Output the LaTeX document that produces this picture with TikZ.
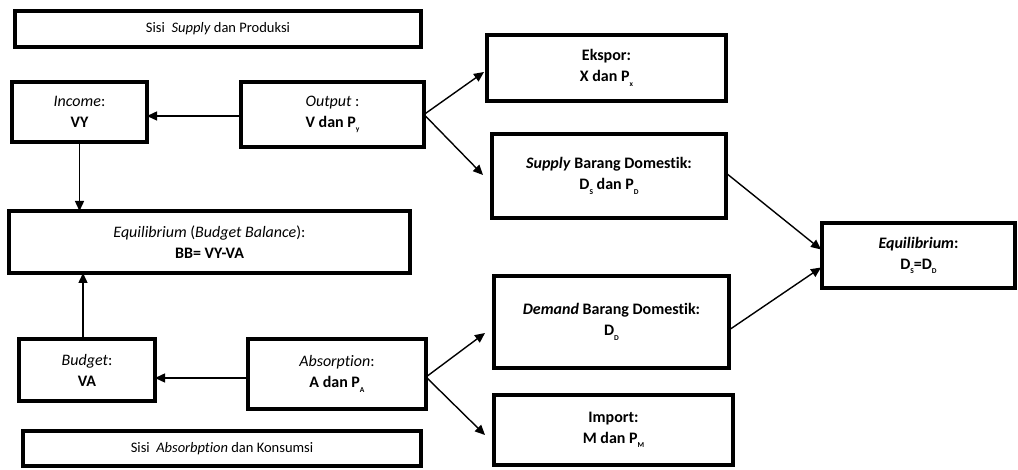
\documentclass[tikz,border=0pt]{standalone}
\usepackage{fontspec}
\setmainfont{Carlito}[Ligatures=NoCommon]
\usetikzlibrary{arrows.meta}
\newcommand\ssub[1]{\raisebox{-0.55ex}{\fontsize{7.5}{7.5}\selectfont\bfseries #1}}
\tikzset{
  box/.style={draw, line width=3.6pt, rectangle, inner sep=0pt, outer sep=0pt, align=center,
    font=\fontsize{16}{21}\selectfont},
  sisi/.style={box, font=\fontsize{14.5}{18}\selectfont},
  conn/.style={line width=1.4pt, -{Triangle[length=10pt,width=9pt]}}
}
\begin{document}
\begin{tikzpicture}[x=1pt,y=-1pt]
\useasboundingbox (0,0) rectangle (1018,470);
\node[sisi, minimum width=406pt, minimum height=36pt] (s1) at (218,29) {Sisi \ \textit{Supply} dan Produksi};
\node[box, minimum width=135pt, minimum height=60pt] (income) at (79.5,112) {\textit{Income}:\\\textbf{VY}};
\node[box, minimum width=183pt, minimum height=65pt] (output) at (332.5,114.5) {\textit{Output} :\\\textbf{V dan P\ssub{y}}};
\node[box, minimum width=401pt, minimum height=62pt] (eqbb) at (209.5,242) {\textit{Equilibrium} (\textit{Budget Balance}):\\\textbf{BB= VY-VA}};
\node[box, minimum width=136pt, minimum height=62pt] (budget) at (87,370) {\textit{Budget}:\\\textbf{VA}};
\node[box, minimum width=178pt, minimum height=70pt] (absorb) at (337,374) {\textit{Absorption}:\\\textbf{A dan P\ssub{A}}};
\node[sisi, minimum width=398pt, minimum height=35pt] (s2) at (222,448.5) {Sisi \ \textit{Absorbption} dan Konsumsi};
\node[box, minimum width=239pt, minimum height=66pt] (ekspor) at (606.5,68) {\textbf{Ekspor:}\\\textbf{X dan P\ssub{x}}};
\node[box, minimum width=234pt, minimum height=84pt] (supd) at (609,176) {\textbf{\textit{Supply} Barang Domestik:}\\\textbf{D\ssub{S} dan P\ssub{D}}};
\node[box, minimum width=235pt, minimum height=92pt] (demd) at (611.5,322) {\textbf{\textit{Demand} Barang Domestik:}\\\textbf{D\ssub{D}}};
\node[box, minimum width=239pt, minimum height=70pt] (import) at (613.5,430) {\textbf{Import:}\\\textbf{M dan P\ssub{M}}};
\node[box, minimum width=193pt, minimum height=65pt] (eqr) at (918.5,255.5) {\textbf{\textit{Equilibrium}:}\\\textbf{D\ssub{S}=D\ssub{D}}};
% connectors
\draw[conn] ([yshift=-1.5pt]output.west) -- ([yshift=-1.5pt]output.west -| income.east);
\draw[conn] (income.south) -- (income.south |- eqbb.north);
\draw[conn] ([xshift=-4pt]budget.north) -- ([xshift=-4pt]budget.north |- eqbb.south);
\draw[conn] ([yshift=-4pt]absorb.west) -- ([yshift=-4pt]absorb.west -| budget.east);
\draw[conn] (output.east) -- ([xshift=-3pt,yshift=-4pt]ekspor.west);
\draw[conn] (output.east) -- ([xshift=-9pt,yshift=1pt]supd.west);
\draw[conn] ([yshift=-3pt]absorb.east) -- ([xshift=-9pt,yshift=-11pt]demd.west);
\draw[conn] ([yshift=-3pt]absorb.east) -- ([xshift=-9pt,yshift=-5pt]import.west);
\draw[conn] ([yshift=3pt]supd.east) -- ([xshift=-1pt,yshift=6pt]eqr.west);
\draw[conn] ([yshift=-8pt]demd.east) -- ([xshift=-1pt,yshift=-12pt]eqr.west);
\end{tikzpicture}
\end{document}
